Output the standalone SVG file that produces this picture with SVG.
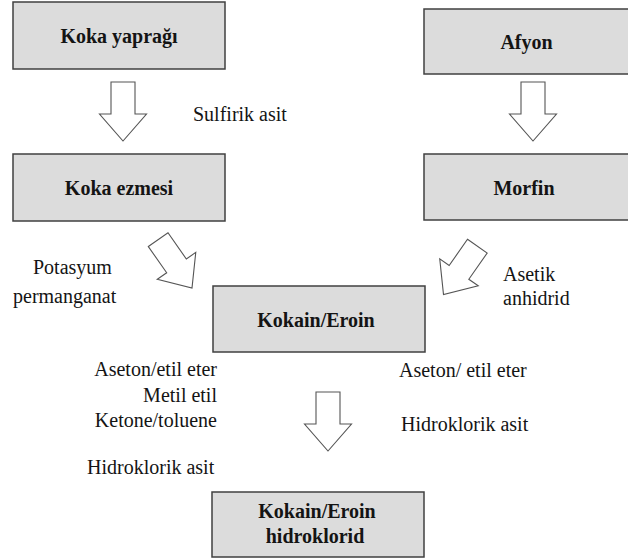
<svg xmlns="http://www.w3.org/2000/svg" width="628" height="559" viewBox="0 0 628 559">
<defs>
<style>
.box{fill:#dcdcdc;stroke:#404040;stroke-width:1.5}
.t{font-family:"Liberation Serif","Times New Roman",serif;font-size:20px;fill:#141414}
.b{font-weight:bold;text-anchor:middle}
.arr{fill:#ffffff;stroke:#555555;stroke-width:1.1;stroke-linejoin:miter}
</style>
<polygon id="arrowShape" points="-12,-59 12,-59 12,-27 23.5,-27 0,0 -23.5,-27 -12,-27"/>
</defs>
<rect width="628" height="559" fill="#ffffff"/>
<g id="n-koka-yapragi"><rect class="box" x="13" y="2" width="212" height="67"/><text class="t b" x="119" y="43">Koka yaprağı</text></g>
<g id="n-afyon"><rect class="box" x="424" y="9" width="210" height="65"/><text class="t b" x="526.5" y="49">Afyon</text></g>
<g id="n-koka-ezmesi"><rect class="box" x="13" y="154" width="212" height="67"/><text class="t b" x="119" y="195">Koka ezmesi</text></g>
<g id="n-morfin"><rect class="box" x="424" y="154" width="210" height="66"/><text class="t b" x="524" y="195">Morfin</text></g>
<g id="n-kokain-eroin"><rect class="box" x="213" y="286" width="212" height="66"/><text class="t b" x="316" y="327">Kokain/Eroin</text></g>
<g id="n-hidroklorid"><rect class="box" x="212" y="492" width="212" height="65"/><text class="t b" x="317" y="518">Kokain/Eroin</text><text class="t b" x="315" y="543">hidroklorid</text></g>
<g id="connectors">
<use href="#arrowShape" class="arr" transform="translate(123,141)"/>
<use href="#arrowShape" class="arr" transform="translate(533,141)"/>
<use href="#arrowShape" class="arr" transform="translate(192,288) rotate(-35)"/>
<use href="#arrowShape" class="arr" transform="translate(443.5,294.5) rotate(35)"/>
<use href="#arrowShape" class="arr" transform="translate(328,451)"/>
</g>
<g id="labels">
<text class="t" x="193" y="121">Sulfirik asit</text>
<text class="t" x="33" y="274">Potasyum</text>
<text class="t" x="13" y="303">permanganat</text>
<text class="t" x="503" y="281">Asetik</text>
<text class="t" x="503" y="305">anhidrid</text>
<text class="t" x="217" y="376" text-anchor="end">Aseton/etil eter</text>
<text class="t" x="217" y="402" text-anchor="end">Metil etil</text>
<text class="t" x="217" y="427" text-anchor="end">Ketone/toluene</text>
<text class="t" x="87" y="474">Hidroklorik asit</text>
<text class="t" x="399" y="377">Aseton/ etil eter</text>
<text class="t" x="401" y="431">Hidroklorik asit</text>
</g>
</svg>
